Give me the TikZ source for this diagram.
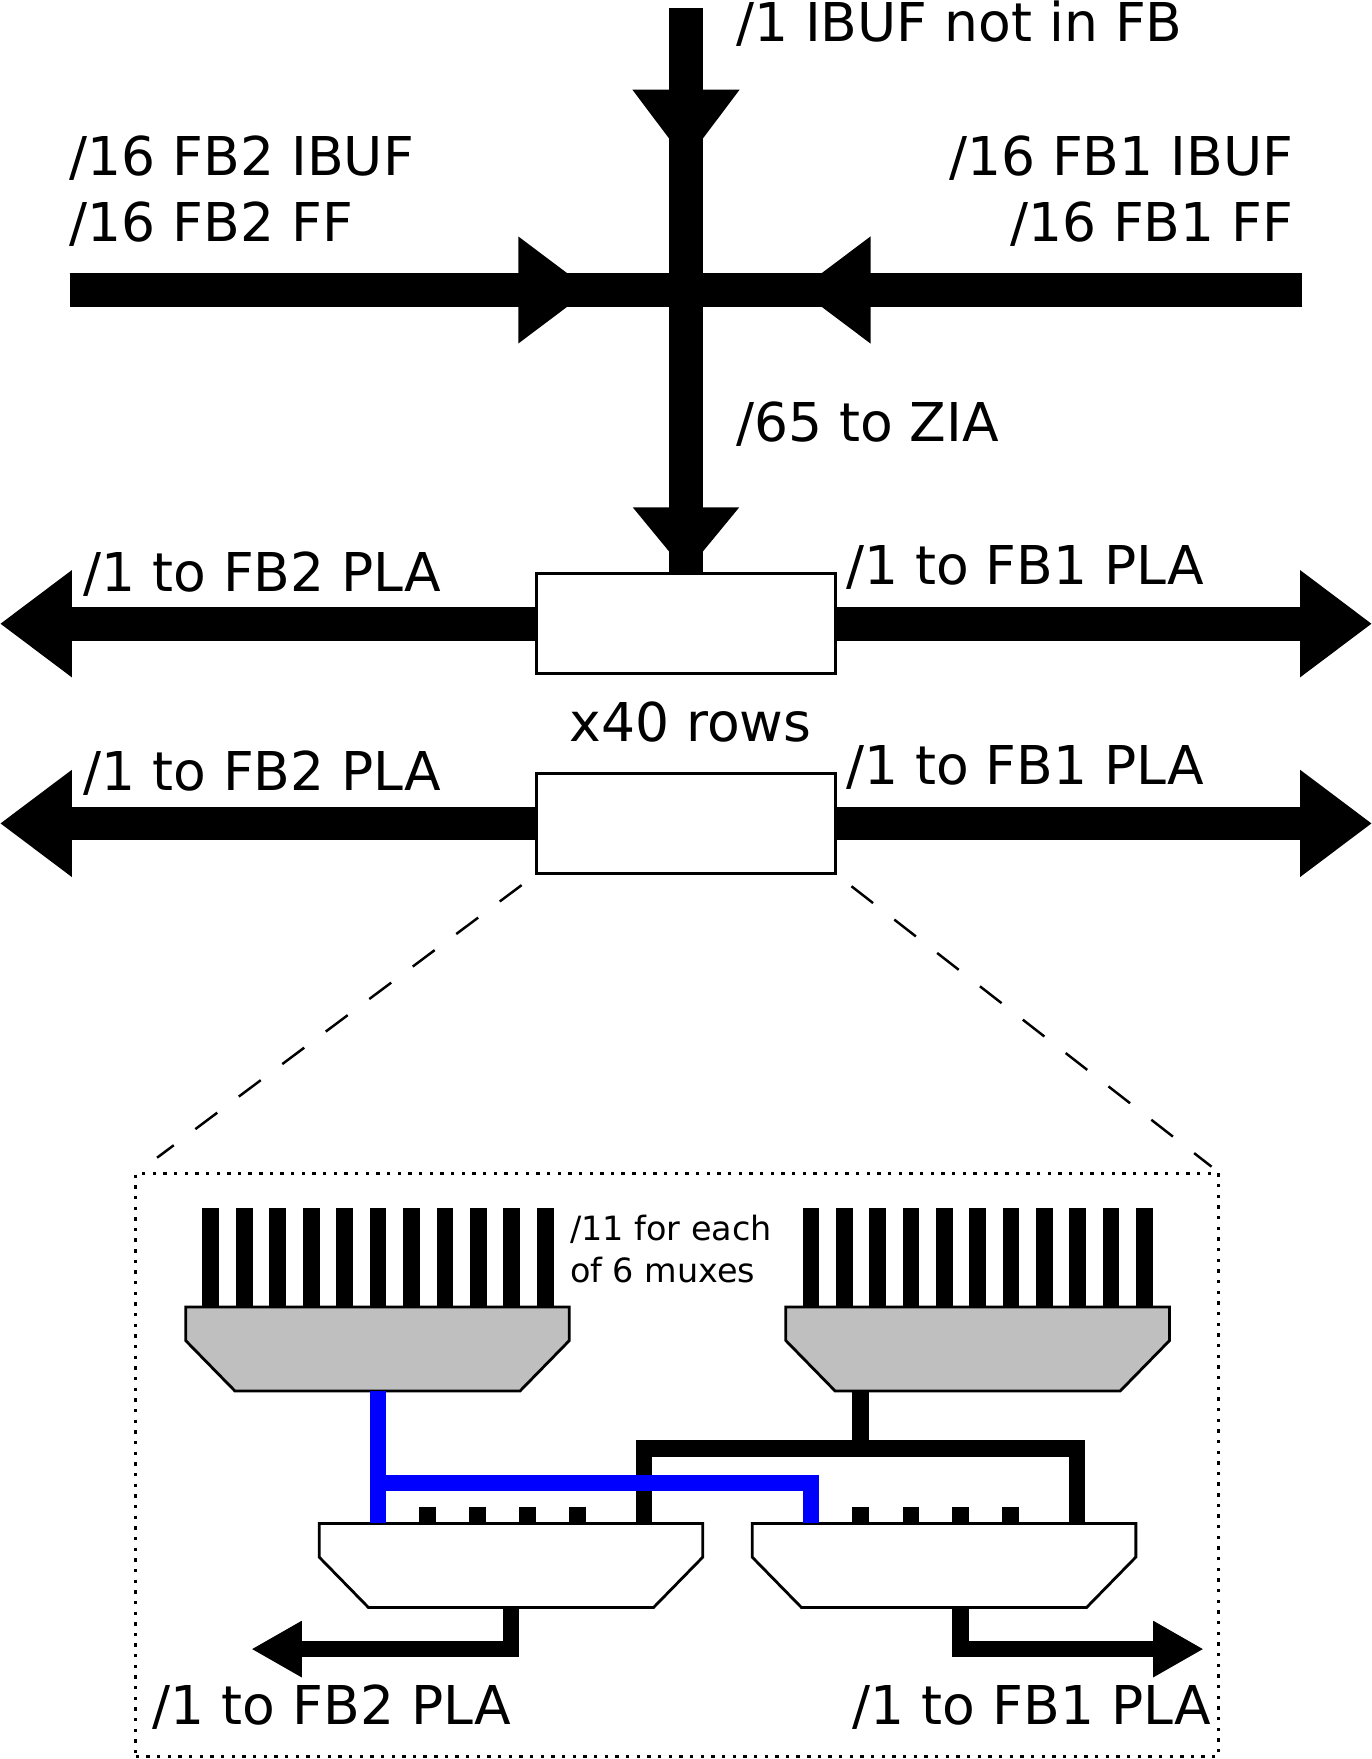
\documentclass[tikz,border=0pt]{standalone}
\usepackage{fontspec}
\setmainfont{DejaVu Sans}
\usetikzlibrary{arrows.meta}
\definecolor{muxgray}{RGB}{191,191,191}
\begin{document}
\begin{tikzpicture}[
            x=1pt,y=-1pt,
            bus/.style={line width=30pt},
            bigarrow/.style={bus, -{Triangle[length=64pt,width=91pt]}},
            wire/.style={line width=15pt},
            smallarrow/.style={wire, -{Triangle[length=45pt,width=47pt]}},
            rowbox/.style={
                rectangle,
                draw=black,
                line width=2.5pt,
                fill=white,
                minimum width=267pt,
                minimum height=89pt,
            },
            zoomline/.style={line width=2.2pt,dash pattern=on 24.4pt off 24pt},
            label/.style={font=\fontsize{47.7}{57}\selectfont,inner sep=0pt},
            smalllabel/.style={font=\fontsize{29.8}{36}\selectfont,inner sep=0pt},
            muxbody/.pic={
                \draw[line width=2.5pt, line join=miter, fill=#1] (-171,0) -- (171,0) -- (171,30) -- (127,75) -- (-127,75) -- (-171,30) -- cycle;
                \coordinate (-bot) at (0,75);
                \coordinate (-top) at (0,0);
            }
        ]
        \useasboundingbox (0,0) rectangle (1223,1568);

        % Row boxes
        \node[rowbox] (rowa) at (611.5,556) {};
        \node[rowbox] (rowb) at (611.5,734) {};

        % Free ends of the buses
        \coordinate (vtop) at (611.5,7);
        \coordinate (vhead) at (611.5,144);
        \coordinate (vbase) at (611.5,440);
        \coordinate (hleft) at (62,258.5);
        \coordinate (hright) at (1161,258.5);
        \coordinate (hheadl) at (526,258.5);
        \coordinate (hheadr) at (712,258.5);
        \coordinate (tipal) at (0,556);
        \coordinate (tipar) at (1223,556);
        \coordinate (tipbl) at (0,734);
        \coordinate (tipbr) at (1223,734);

        % Input buses
        \draw[bus] (vtop) -- (rowa.north);
        \draw[bigarrow] (vtop) -- (vhead);
        \draw[bus,-{Triangle[length=58pt,width=91pt]}] (vbase) -- (rowa.north);
        \draw[bus] (hleft) -- (hright);
        \draw[bigarrow] (hleft) -- (hheadl);
        \draw[bigarrow] (hright) -- (hheadr);

        % Row outputs
        \draw[bigarrow] (rowa.west) -- (tipal);
        \draw[bigarrow] (rowa.east) -- (tipar);
        \draw[bigarrow] (rowb.west) -- (tipbl);
        \draw[bigarrow] (rowb.east) -- (tipbr);

        % Labels
        \node[label,anchor=base west] (ibuf) at (656,37) {/1 IBUF not in FB};
        \node[label,anchor=base west] (fb2ibuf) at (62,156) {/16 FB2 IBUF};
        \node[label,anchor=base west] (fb2ff) at (62,215) {/16 FB2 FF};
        \node[label,anchor=base east] (fb1ibuf) at (1153,156) {/16 FB1 IBUF};
        \node[label,anchor=base east] (fb1ff) at (1153,215) {/16 FB1 FF};
        \node[label,anchor=base west] (zia) at (656,394) {/65 to ZIA};
        \node[label,anchor=base west] (plaal) at (74,527) {/1 to FB2 PLA};
        \node[label,anchor=base west] (plaar) at (754,521) {/1 to FB1 PLA};
        \node[label,anchor=base] (rows) at (615.5,661) {x40 rows};
        \node[label,anchor=base west] (plabl) at (74,705) {/1 to FB2 PLA};
        \node[label,anchor=base west] (plabr) at (754,699) {/1 to FB1 PLA};

        % Zoom lines and detail frame
        \node[draw=black,line width=3pt,dash pattern=on 3pt off 6.5pt,minimum width=965pt,minimum height=520pt,inner sep=0pt] (detail) at (603.5,1306) {};
        \coordinate (zoomla) at (465,789);
        \coordinate (zoomlb) at (140,1032);
        \coordinate (zoomra) at (759,790);
        \coordinate (zoomrb) at (1080,1040);
        \draw[zoomline] (zoomla) -- (zoomlb);
        \draw[zoomline] (zoomra) -- (zoomrb);

        % Mux inputs
        \foreach \i in {0,...,10} {
            \draw[wire] (188+29.8*\i,1077) -- (188+29.8*\i,1165);
            \draw[wire] (723+29.7*\i,1077) -- (723+29.7*\i,1165);
        }
        \foreach \i in {381,426,470,515,767,812,856,901} {
            \draw[wire] (\i,1343) -- (\i,1358);
        }

        % Muxes
        \pic (muxa) at (336.5,1165) {muxbody=muxgray};
        \pic (muxb) at (871.5,1165) {muxbody=muxgray};
        \pic (muxc) at (455.5,1358) {muxbody=white};
        \pic (muxd) at (841.5,1358) {muxbody=white};

        \node[smalllabel,anchor=base west] (elev) at (508,1106) {/11 for each};
        \node[smalllabel,anchor=base west] (six) at (508,1143) {of 6 muxes};

        % Black feed
        \coordinate (feedc) at (574,1358);
        \coordinate (feedd) at (960,1358);
        \coordinate (feedt) at (767,1291);
        \draw[wire] (muxb-bot -| feedt) -- (feedt);
        \draw[wire] (feedc) -- (feedc |- feedt) -- (feedd |- feedt) -- (feedd);

        % Blue feed
        \coordinate (bluea) at (337,1240);
        \coordinate (bluec) at (337,1358);
        \coordinate (blued) at (723,1358);
        \coordinate (bluet) at (723,1322);
        \draw[wire,blue] (bluea) -- (bluec);
        \draw[wire,blue] (bluec |- bluet) -- (bluet) -- (blued);

        % Mux outputs
        \coordinate (outl) at (224,1470);
        \coordinate (outr) at (1073,1470);
        \coordinate (outd) at (856,1433);
        \draw[smallarrow] (muxc-bot) -- (muxc-bot |- outl) -- (outl);
        \draw[smallarrow] (outd) -- (outd |- outr) -- (outr);

        \node[label,anchor=base west] (placl) at (136,1537) {/1 to FB2 PLA};
        \node[label,anchor=base west] (placr) at (760,1537) {/1 to FB1 PLA};

        \end{tikzpicture}
\end{document}
